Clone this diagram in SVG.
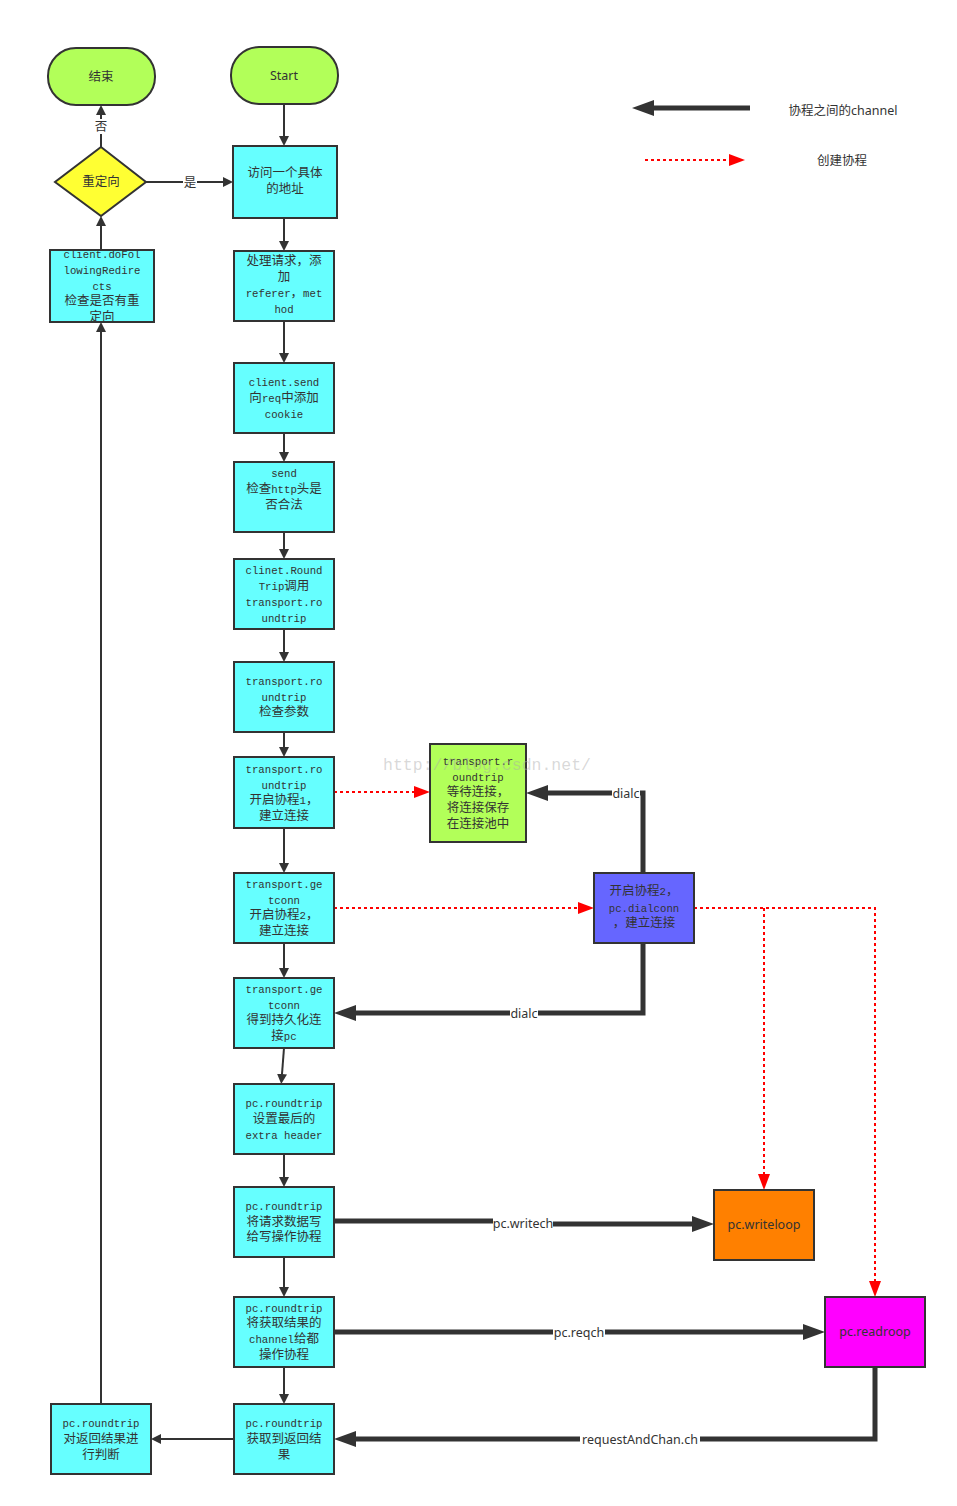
<svg xmlns="http://www.w3.org/2000/svg" width="957" height="1506" viewBox="0 0 957 1506">
<style>
.box{stroke:#333;stroke-width:2}
.cy{fill:#66ffff}
.gr{fill:#b2ff59}
.t{font-family:"Liberation Mono","Noto Sans CJK SC",monospace;font-size:12.5px;fill:#333;text-anchor:middle}
.t tspan.m,.m{font-family:"Liberation Mono",monospace;font-size:10.7px}
.s{font-family:"Noto Sans","Noto Sans CJK SC",sans-serif;font-size:12.5px;fill:#333;text-anchor:middle}
.thin{stroke:#333;stroke-width:2;fill:none}
.thick{stroke:#333;stroke-width:5;fill:none}
.red{stroke:#ff0000;stroke-width:2;stroke-dasharray:3 3;fill:none}
.lb{fill:#fff}
</style>
<defs>
<marker id="a" markerUnits="userSpaceOnUse" viewBox="0 0 10 10" markerWidth="10" markerHeight="10" refX="0" refY="5" orient="auto"><path d="M0,0 L10,5 L0,10 z" fill="#333"/></marker>
<marker id="b" markerUnits="userSpaceOnUse" viewBox="0 0 22 16" markerWidth="22" markerHeight="16" refX="0" refY="8" orient="auto"><path d="M0,0 L22,8 L0,16 z" fill="#333"/></marker>
<marker id="r" markerUnits="userSpaceOnUse" viewBox="0 0 16 12" markerWidth="16" markerHeight="12" refX="0" refY="6" orient="auto"><path d="M0,0 L16,6 L0,12 z" fill="#ff0000"/></marker>
</defs>
<rect width="957" height="1506" fill="#fff"/>

<g id="connectors">
<path class="thin" d="M284,104 V136" marker-end="url(#a)"/>
<path class="thin" d="M284,218 V241" marker-end="url(#a)"/>
<path class="thin" d="M284,321 V353" marker-end="url(#a)"/>
<path class="thin" d="M284,433 V452" marker-end="url(#a)"/>
<path class="thin" d="M284,532 V549" marker-end="url(#a)"/>
<path class="thin" d="M284,629 V652" marker-end="url(#a)"/>
<path class="thin" d="M284,732 V747" marker-end="url(#a)"/>
<path class="thin" d="M284,828 V863" marker-end="url(#a)"/>
<path class="thin" d="M284,943 V968" marker-end="url(#a)"/>
<path class="thin" d="M284,1048 L282,1074" marker-end="url(#a)"/>
<path class="thin" d="M284,1154 V1177" marker-end="url(#a)"/>
<path class="thin" d="M284,1257 V1287" marker-end="url(#a)"/>
<path class="thin" d="M284,1367 V1394" marker-end="url(#a)"/>
<path class="thin" d="M234,1439 H161" marker-end="url(#a)"/>
<path class="thin" d="M101,1404 V332" marker-end="url(#a)"/>
<path class="thin" d="M101,250 V226" marker-end="url(#a)"/>
<path class="thin" d="M101,147 V115" marker-end="url(#a)"/>
<path class="thin" d="M146,182 H223" marker-end="url(#a)"/>
<rect class="lb" x="94" y="119" width="14" height="15"/>
<text class="s" x="101" y="131">否</text>
<rect class="lb" x="183" y="175" width="14" height="15"/>
<text class="s" x="190" y="187">是</text>

<path class="thick" d="M643,873 V793 H548" marker-end="url(#b)"/>
<rect class="lb" x="612" y="786" width="28" height="15"/>
<text class="s" x="626" y="798">dialc</text>
<path class="thick" d="M643,943 V1013 H356" marker-end="url(#b)"/>
<rect class="lb" x="510" y="1006" width="28" height="15"/>
<text class="s" x="524" y="1018">dialc</text>
<path class="thick" d="M334,1221 H520 V1224 H692" marker-end="url(#b)"/>
<rect class="lb" x="493" y="1215" width="60" height="17"/>
<text class="s" x="523" y="1228">pc.writech</text>
<path class="thick" d="M334,1332 H803" marker-end="url(#b)"/>
<rect class="lb" x="553" y="1324" width="52" height="17"/>
<text class="s" x="579" y="1337">pc.reqch</text>
<path class="thick" d="M875,1367 V1439 H356" marker-end="url(#b)"/>
<rect class="lb" x="580" y="1431" width="120" height="17"/>
<text class="s" x="640" y="1444">requestAndChan.ch</text>

<path class="red" d="M334,792 H414" marker-end="url(#r)"/>
<path class="red" d="M334,908 H578" marker-end="url(#r)"/>
<path class="red" d="M694,908 H875 V1281" marker-end="url(#r)"/>
<path class="red" d="M764,908 V1174" marker-end="url(#r)"/>
</g>

<g id="legend">
<path class="thick" d="M750,108 H654" marker-end="url(#b)"/>
<text class="s" x="843" y="115">协程之间的channel</text>
<path class="red" d="M645,160 H729" marker-end="url(#r)"/>
<text class="s" x="842" y="165">创建协程</text>
</g>

<g id="end">
<rect class="box gr" x="48" y="48" width="107" height="57" rx="28"/>
<text class="s" x="101" y="81">结束</text>
</g>
<g id="start">
<rect class="box gr" x="231" y="47" width="107" height="57" rx="28"/>
<text class="s" x="284" y="80">Start</text>
</g>
<g id="redirect">
<path class="box" d="M101,147 L146,182 L101,216 L55,182 z" fill="#ffff33"/>
<text class="s" x="101" y="186">重定向</text>
</g>
<g id="n1">
<rect class="box cy" x="233" y="146" width="104" height="72"/>
<text class="t" x="285" y="177">访问一个具体</text>
<text class="t" x="285" y="193">的地址</text>
</g>
<g id="n0">
<rect class="box cy" x="50" y="250" width="104" height="72"/>
<text class="t" x="102" y="258"><tspan class="m">client.doFol</tspan></text>
<text class="t" x="102" y="274"><tspan class="m">lowingRedire</tspan></text>
<text class="t" x="102" y="290"><tspan class="m">cts</tspan></text>
<text class="t" x="102" y="305">检查是否有重</text>
<text class="t" x="102" y="321">定向</text>
</g>
<g id="n2">
<rect class="box cy" x="234" y="251" width="100" height="70"/>
<text class="t" x="284" y="265">处理请求，添</text>
<text class="t" x="284" y="281">加</text>
<text class="t" x="284" y="297"><tspan class="m">referer</tspan>，<tspan class="m">met</tspan></text>
<text class="t" x="284" y="313"><tspan class="m">hod</tspan></text>
</g>
<g id="n3">
<rect class="box cy" x="234" y="363" width="100" height="70"/>
<text class="t" x="284" y="386"><tspan class="m">client.send</tspan></text>
<text class="t" x="284" y="402">向<tspan class="m">req</tspan>中添加</text>
<text class="t" x="284" y="418"><tspan class="m">cookie</tspan></text>
</g>
<g id="n4">
<rect class="box cy" x="234" y="462" width="100" height="70"/>
<text class="t" x="284" y="477"><tspan class="m">send</tspan></text>
<text class="t" x="284" y="493">检查<tspan class="m">http</tspan>头是</text>
<text class="t" x="284" y="509">否合法</text>
</g>
<g id="n5">
<rect class="box cy" x="234" y="559" width="100" height="70"/>
<text class="t" x="284" y="574"><tspan class="m">clinet.Round</tspan></text>
<text class="t" x="284" y="590"><tspan class="m">Trip</tspan>调用</text>
<text class="t" x="284" y="606"><tspan class="m">transport.ro</tspan></text>
<text class="t" x="284" y="622"><tspan class="m">undtrip</tspan></text>
</g>
<g id="n6">
<rect class="box cy" x="234" y="662" width="100" height="70"/>
<text class="t" x="284" y="685"><tspan class="m">transport.ro</tspan></text>
<text class="t" x="284" y="701"><tspan class="m">undtrip</tspan></text>
<text class="t" x="284" y="716">检查参数</text>
</g>
<g id="n7">
<rect class="box cy" x="234" y="757" width="100" height="71"/>
<text class="t" x="284" y="773"><tspan class="m">transport.ro</tspan></text>
<text class="t" x="284" y="789"><tspan class="m">undtrip</tspan></text>
<text class="t" x="284" y="804">开启协程<tspan class="m">1</tspan>，</text>
<text class="t" x="284" y="820">建立连接</text>
</g>
<g id="n8">
<rect class="box cy" x="234" y="873" width="100" height="70"/>
<text class="t" x="284" y="888"><tspan class="m">transport.ge</tspan></text>
<text class="t" x="284" y="904"><tspan class="m">tconn</tspan></text>
<text class="t" x="284" y="919">开启协程<tspan class="m">2</tspan>，</text>
<text class="t" x="284" y="935">建立连接</text>
</g>
<g id="n9">
<rect class="box cy" x="234" y="978" width="100" height="70"/>
<text class="t" x="284" y="993"><tspan class="m">transport.ge</tspan></text>
<text class="t" x="284" y="1009"><tspan class="m">tconn</tspan></text>
<text class="t" x="284" y="1024">得到持久化连</text>
<text class="t" x="284" y="1040">接<tspan class="m">pc</tspan></text>
</g>
<g id="n10">
<rect class="box cy" x="234" y="1084" width="100" height="70"/>
<text class="t" x="284" y="1107"><tspan class="m">pc.roundtrip</tspan></text>
<text class="t" x="284" y="1123">设置最后的</text>
<text class="t" x="284" y="1139"><tspan class="m">extra header</tspan></text>
</g>
<g id="n11">
<rect class="box cy" x="234" y="1187" width="100" height="70"/>
<text class="t" x="284" y="1210"><tspan class="m">pc.roundtrip</tspan></text>
<text class="t" x="284" y="1226">将请求数据写</text>
<text class="t" x="284" y="1241">给写操作协程</text>
</g>
<g id="n12">
<rect class="box cy" x="234" y="1297" width="100" height="70"/>
<text class="t" x="284" y="1312"><tspan class="m">pc.roundtrip</tspan></text>
<text class="t" x="284" y="1327">将获取结果的</text>
<text class="t" x="284" y="1343"><tspan class="m">channel</tspan>给都</text>
<text class="t" x="284" y="1359">操作协程</text>
</g>
<g id="n13">
<rect class="box cy" x="234" y="1404" width="100" height="70"/>
<text class="t" x="284" y="1427"><tspan class="m">pc.roundtrip</tspan></text>
<text class="t" x="284" y="1443">获取到返回结</text>
<text class="t" x="284" y="1459">果</text>
</g>
<g id="n14">
<rect class="box cy" x="51" y="1404" width="100" height="70"/>
<text class="t" x="101" y="1427"><tspan class="m">pc.roundtrip</tspan></text>
<text class="t" x="101" y="1443">对返回结果进</text>
<text class="t" x="101" y="1459">行判断</text>
</g>
<g id="pool">
<rect class="box" x="430" y="744" width="96" height="98" fill="#b2ff59"/>
<text class="t" x="478" y="765"><tspan class="m">transport.r</tspan></text>
<text class="t" x="478" y="781"><tspan class="m">oundtrip</tspan></text>
<text class="t" x="478" y="796">等待连接，</text>
<text class="t" x="478" y="812">将连接保存</text>
<text class="t" x="478" y="828">在连接池中</text>
</g>
<g id="dialconn">
<rect class="box" x="594" y="873" width="100" height="70" fill="#6666ff"/>
<text class="t" x="644" y="895">开启协程<tspan class="m">2</tspan>，</text>
<text class="t" x="644" y="912"><tspan class="m">pc.dialconn</tspan></text>
<text class="t" x="644" y="927">，建立连接</text>
</g>
<g id="writeloop">
<rect class="box" x="714" y="1190" width="100" height="70" fill="#ff8000"/>
<text class="s" x="764" y="1229">pc.writeloop</text>
</g>
<g id="readroop">
<rect class="box" x="825" y="1297" width="100" height="70" fill="#ff00ff"/>
<text class="s" x="875" y="1336">pc.readroop</text>
</g>
<text x="487" y="770" font-family="Liberation Mono,monospace" font-size="16.5" fill="#aaa" fill-opacity="0.45" text-anchor="middle">http://blog.csdn.net/</text>
</svg>
